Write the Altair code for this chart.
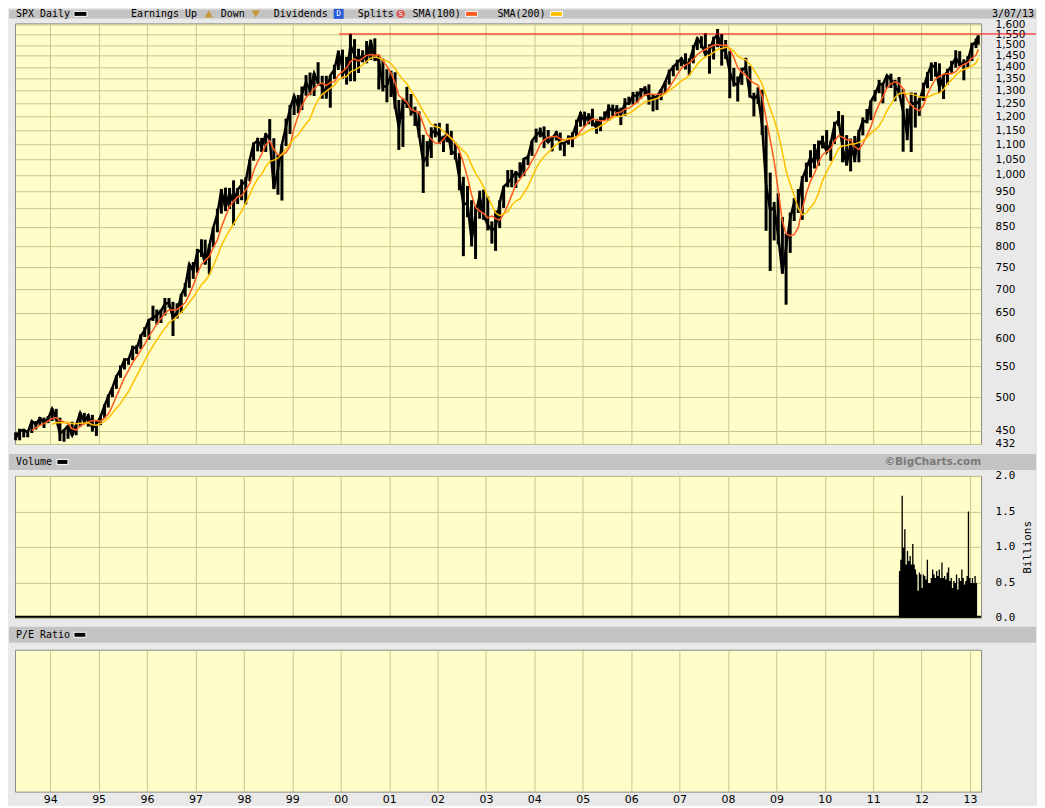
import altair as alt
import pandas as pd

# ---------------- data ----------------
# monthly ranges (high / low / close) of the SPX daily bars, Apr 1993 .. Mar 2013
high = [
    448, 453, 453, 451, 464, 464, 470, 469, 471,                      # 1993 Apr-Dec
    483, 482, 469, 452, 458, 463, 459, 477, 476, 474, 473, 465,       # 1994
    472, 489, 504, 516, 535, 552, 564, 565, 587, 588, 608, 622,       # 1995
    637, 665, 657, 657, 681, 681, 673, 670, 690, 714, 758, 762,       # 1996
    794, 818, 817, 805, 849, 900, 957, 961, 960, 983, 960, 986,       # 1997
    992, 1050, 1106, 1123, 1122, 1139, 1190, 1121, 1066, 1100, 1192, 1244,  # 1998
    1280, 1283, 1317, 1365, 1376, 1374, 1421, 1362, 1362, 1363, 1410, 1474,  # 1999
    1478, 1445, 1553, 1527, 1482, 1475, 1518, 1525, 1531, 1454, 1437, 1390,  # 2000
    1384, 1377, 1263, 1269, 1316, 1287, 1237, 1219, 1133, 1111, 1160, 1173,  # 2001
    1176, 1130, 1173, 1147, 1106, 1071, 994, 966, 924, 907, 952, 955,        # 2002
    935, 865, 895, 924, 965, 1015, 1016, 1012, 1040, 1054, 1063, 1112,       # 2003
    1155, 1159, 1163, 1150, 1128, 1146, 1141, 1109, 1131, 1142, 1188, 1217,  # 2004
    1218, 1212, 1229, 1191, 1199, 1219, 1246, 1245, 1243, 1233, 1270, 1276,  # 2005
    1295, 1297, 1311, 1318, 1326, 1286, 1280, 1306, 1340, 1389, 1407, 1432,  # 2006
    1441, 1461, 1438, 1499, 1535, 1541, 1556, 1503, 1539, 1576, 1552, 1523,  # 2007
    1471, 1396, 1359, 1397, 1441, 1405, 1292, 1314, 1304, 1167, 1007, 919,   # 2008
    944, 877, 833, 889, 930, 957, 996, 1039, 1080, 1101, 1113, 1130,         # 2009
    1150, 1113, 1180, 1220, 1205, 1132, 1120, 1129, 1151, 1196, 1228, 1262,  # 2010
    1303, 1345, 1333, 1364, 1371, 1345, 1357, 1307, 1230, 1293, 1292, 1270,  # 2011
    1333, 1378, 1420, 1422, 1416, 1364, 1392, 1427, 1475, 1471, 1434, 1448,  # 2012
    1510, 1530, 1545,                                                         # 2013 Jan-Mar
]
low = [
    437, 437, 441, 441, 447, 452, 458, 454, 461,
    464, 465, 436, 435, 439, 443, 444, 456, 461, 456, 449, 443,
    458, 468, 484, 500, 513, 531, 545, 553, 561, 572, 581, 603,
    598, 634, 627, 630, 645, 661, 605, 639, 650, 684, 703, 723,
    737, 774, 756, 733, 798, 836, 886, 893, 899, 855, 913, 924,
    912, 980, 1045, 1076, 1074, 1074, 1114, 957, 940, 923, 1094, 1136,
    1205, 1212, 1224, 1280, 1282, 1279, 1327, 1268, 1268, 1233, 1348, 1387,
    1350, 1325, 1339, 1339, 1374, 1420, 1416, 1431, 1426, 1305, 1297, 1254,
    1275, 1229, 1081, 1091, 1232, 1203, 1165, 1124, 945, 1026, 1054, 1124,
    1101, 1074, 1107, 1064, 1049, 953, 776, 876, 800, 769, 872, 869,
    841, 807, 789, 847, 902, 962, 962, 960, 990, 996, 1031, 1061,
    1106, 1124, 1087, 1105, 1076, 1113, 1079, 1060, 1099, 1090, 1127, 1162,
    1163, 1171, 1163, 1137, 1146, 1188, 1183, 1201, 1201, 1168, 1202, 1246,
    1245, 1253, 1268, 1280, 1245, 1219, 1224, 1262, 1290, 1325, 1360, 1385,
    1403, 1389, 1364, 1416, 1476, 1484, 1454, 1371, 1433, 1489, 1406, 1435,
    1270, 1317, 1257, 1324, 1373, 1272, 1200, 1247, 1133, 840, 741, 815,
    805, 735, 667, 784, 866, 888, 869, 978, 992, 1020, 1029, 1086,
    1071, 1045, 1101, 1164, 1040, 1029, 1011, 1040, 1040, 1131, 1174, 1186,
    1257, 1290, 1250, 1310, 1311, 1258, 1282, 1075, 1114, 1074, 1159, 1202,
    1259, 1310, 1340, 1358, 1292, 1267, 1325, 1375, 1397, 1403, 1343, 1399,
    1426, 1485, 1501,
]
close = [
    440, 450, 451, 448, 464, 459, 468, 462, 467,
    482, 467, 446, 451, 457, 444, 458, 476, 463, 472, 454, 459,
    470, 487, 501, 515, 533, 545, 562, 562, 584, 582, 605, 616,
    636, 640, 646, 654, 669, 671, 640, 652, 687, 705, 757, 741,
    786, 791, 757, 801, 848, 885, 954, 900, 947, 915, 955, 970,
    980, 1049, 1102, 1112, 1091, 1134, 1121, 957, 1017, 1099, 1164, 1229,
    1280, 1238, 1286, 1335, 1302, 1373, 1329, 1320, 1283, 1363, 1389, 1469,
    1395, 1366, 1499, 1452, 1421, 1455, 1431, 1518, 1437, 1429, 1315, 1320,
    1366, 1240, 1160, 1250, 1256, 1224, 1211, 1134, 1041, 1060, 1140, 1148,
    1130, 1107, 1147, 1077, 1067, 990, 912, 916, 815, 886, 936, 880,
    856, 841, 848, 917, 964, 975, 990, 1008, 996, 1051, 1058, 1112,
    1131, 1145, 1126, 1107, 1121, 1141, 1102, 1104, 1115, 1130, 1174, 1212,
    1181, 1204, 1181, 1157, 1192, 1191, 1234, 1220, 1229, 1207, 1250, 1248,
    1280, 1281, 1295, 1311, 1270, 1270, 1277, 1304, 1336, 1378, 1401, 1418,
    1438, 1407, 1421, 1482, 1531, 1503, 1455, 1474, 1527, 1549, 1481, 1468,
    1379, 1331, 1323, 1386, 1400, 1280, 1267, 1283, 1166, 969, 896, 903,
    826, 735, 798, 873, 919, 919, 988, 1021, 1057, 1036, 1096, 1115,
    1074, 1104, 1169, 1187, 1089, 1031, 1102, 1049, 1141, 1183, 1181, 1258,
    1286, 1327, 1326, 1364, 1345, 1321, 1292, 1219, 1131, 1253, 1247, 1258,
    1312, 1366, 1409, 1398, 1310, 1362, 1379, 1407, 1441, 1412, 1416, 1426,
    1498, 1515, 1544,
]
months = pd.date_range("1993-04-01", "2013-03-01", freq="MS")
dates = [(m + pd.Timedelta(days=14)).strftime("%Y-%m-%d") for m in months]
dates[-1] = "2013-03-04"

# volume (billions), roughly every 10 days from mid-July 2011
vol = [0.66, 0.82, 1.72, 0.99, 1.25, 0.75, 0.94, 0.80, 0.87, 0.75,
       1.04, 0.75, 0.68, 0.61, 0.38, 0.64, 0.61, 0.42, 0.61, 0.59,
       0.54, 0.82, 0.49, 0.49, 0.56, 0.68, 0.61, 0.56, 0.66, 0.59,
       0.68, 0.56, 0.78, 0.56, 0.59, 0.54, 0.64, 0.71, 0.52, 0.56,
       0.42, 0.52, 0.49, 0.61, 0.40, 0.56, 0.52, 0.68, 0.56, 0.47,
       0.52, 0.59, 1.50, 0.56, 0.49, 0.56, 0.49, 0.59, 0.49, 0.71]
vol_dates = [d.strftime("%Y-%m-%d") for d in pd.date_range("2011-07-14", periods=len(vol), freq="10D")]

price_ticks = [432] + list(range(450, 1601, 50))
vol_ticks = [0, 0.5, 1, 1.5, 2]
prior_high = 1552
year_ticks = [alt.DateTime(year=y, month=1, date=1) for y in range(1994, 2014)]

price = pd.DataFrame({"date": dates, "high": high, "low": low, "close": close})
volume = pd.DataFrame({"date": vol_dates, "vol": vol})

# ---------------- styling ----------------
W = 967
RIGHT = 1022          # right end of the header bands (relative to plot left)
BG = "#e9e9e9"
HDR = "#c3c3c3"
GRID = "#c6c690"
MONO = "DejaVu Sans Mono"
SANS = "DejaVu Sans"
SMA100 = "#ff5a1e"
SMA200 = "#ffc000"

x_domain = [alt.DateTime(year=1993, month=4, date=10), alt.DateTime(year=2013, month=3, date=25)]


def xenc(show_labels=False):
    return alt.X(
        "date:T",
        scale=alt.Scale(domain=x_domain),
        axis=alt.Axis(values=year_ticks, labels=show_labels, format="%y", ticks=False,
                      domain=False, title=None, grid=True, labelFont=SANS, labelFontSize=11,
                      labelPadding=2, labelColor="#000", labelOverlap=False),
    )


one = alt.Data(values=[{"k": 0}])


def text(label, x, y, size=10, font=MONO, align="left", color="#000", weight="normal"):
    return alt.Chart(one).mark_text(text=label, align=align, baseline="middle", font=font,
                                    fontSize=size, color=color, fontWeight=weight).encode(
        x=alt.value(x), y=alt.value(y))


def box(x1, x2, y1, y2, color, stroke=None):
    kw = {"color": color}
    if stroke:
        kw.update(stroke=stroke, strokeWidth=1)
    return alt.Chart(one).mark_rect(**kw).encode(
        x=alt.value(x1), x2=alt.value(x2), y=alt.value(y1), y2=alt.value(y2))


def symbol(shape, x, y, color, size=60):
    return alt.Chart(one).mark_point(shape=shape, filled=True, color=color, size=size, opacity=1).encode(
        x=alt.value(x), y=alt.value(y))


# ---------------- main price panel ----------------
yscale = alt.Scale(type="log", domain=[432, 1604], nice=False, zero=False)
yaxis = alt.Axis(orient="right", values=price_ticks, format=",", title=None, ticks=False,
                 domain=False, labelPadding=14, labelFont=SANS, labelFontSize=10.5,
                 labelColor="#000", grid=True, labelOverlap=False, labelBound=False)

base = alt.Chart(price)
bars = base.mark_rule(color="#000", strokeWidth=3).encode(
    x=xenc(), y=alt.Y("low:Q", scale=yscale, axis=yaxis), y2="high:Q")
cl = base.mark_line(color="#000", strokeWidth=2.5).encode(x=xenc(), y=alt.Y("close:Q"))
sma1 = base.transform_window(
    sma="mean(close)", rn="row_number()", frame=[-4, 0], sort=[alt.SortField("date")]
).transform_filter("datum.rn >= 5").mark_line(color=SMA100, strokeWidth=1.5).encode(
    x=xenc(), y=alt.Y("sma:Q"))
sma2 = base.transform_window(
    sma="mean(close)", rn="row_number()", frame=[-9, 0], sort=[alt.SortField("date")]
).transform_filter("datum.rn >= 10").mark_line(color=SMA200, strokeWidth=1.5).encode(
    x=xenc(), y=alt.Y("sma:Q"))
red = alt.Chart(one).mark_rule(color="#ff0000", strokeWidth=1).encode(
    x=alt.datum(alt.DateTime(year=1999, month=12, date=20)), x2=alt.value(RIGHT),
    y=alt.datum(prior_high))

hy = -9.5
main_hdr = [
    box(-6, RIGHT, -14, -5, HDR),
    text("SPX Daily", 1, hy),
    box(59, 72, hy - 2.5, hy + 2.5, "#000", stroke="#fff"),
    text("Earnings Up", 116, hy),
    symbol("triangle-up", 194, hy, "#c8963c", 70),
    text("Down", 206, hy),
    symbol("triangle-down", 241, hy, "#c8963c", 70),
    text("Dividends", 259, hy),
    box(319, 329, hy - 5, hy + 5, "#2a5bd7"),
    text("D", 324, hy, size=8, align="center", color="#fff"),
    text("Splits", 343, hy),
    symbol("circle", 386, hy, "#d65050", 70),
    text("S", 386, hy, size=7, align="center", color="#fff"),
    text("SMA(100)", 398, hy),
    box(451, 463, hy - 2.5, hy + 2.5, SMA100, stroke="#fff"),
    text("SMA(200)", 483, hy),
    box(536, 548, hy - 2.5, hy + 2.5, SMA200, stroke="#fff"),
    text("3/07/13", 1020, hy, align="right"),
]
main = alt.layer(bars, cl, sma1, sma2, red, *main_hdr).properties(width=W, height=421)

# ---------------- volume panel ----------------
vscale = alt.Scale(domain=[0, 2], nice=False)
vaxis = alt.Axis(orient="right", values=vol_ticks, format=".1f", title="Billions",
                 titleAngle=270, titleFont=MONO, titleFontSize=11, titleFontWeight="normal",
                 titlePadding=18, ticks=False, domain=False, labelPadding=14, labelFont=MONO,
                 labelFontSize=11, labelColor="#000", titleColor="#000", grid=True,
                 labelOverlap=False, labelBound=False)
vbars = alt.Chart(volume).mark_area(color="#000", interpolate="step-after", opacity=1).encode(
    x=xenc(), y=alt.Y("vol:Q", scale=vscale, axis=vaxis))
vbase = alt.Chart(one).mark_rule(color="#000", strokeWidth=2).encode(y=alt.value(141))
vy = -14
vol_hdr = [
    box(-6, RIGHT, -22, -6, HDR),
    text("Volume", 1, vy),
    box(42, 53, vy - 2.5, vy + 2.5, "#000", stroke="#fff"),
    text("©BigCharts.com", 967, vy, size=10.5, font=SANS, align="right", color="#7a7a7a", weight="bold"),
]
volc = alt.layer(vbars, vbase, *vol_hdr).properties(width=W, height=142)

# ---------------- P/E panel (no data) ----------------
pe_axis_holder = alt.Chart(volume).mark_point(opacity=0).encode(x=xenc(True))
py = -15
pe_hdr = [
    box(-6, RIGHT, -23, -7, HDR),
    text("P/E Ratio", 1, py),
    box(59, 71, py - 2.5, py + 2.5, "#000", stroke="#fff"),
]
pe = alt.layer(pe_axis_holder, *pe_hdr).properties(width=W, height=142)

chart = alt.vconcat(main, volc, pe, spacing=32, bounds="flush").properties(
    padding=0, background=BG
).configure_view(
    fill="#fffec8", stroke="#8a8a8a", strokeWidth=1
).configure_axis(
    gridColor=GRID, gridOpacity=1, gridWidth=1
)

chart.save("out.html", embed_options={"renderer": "svg", "actions": False})
